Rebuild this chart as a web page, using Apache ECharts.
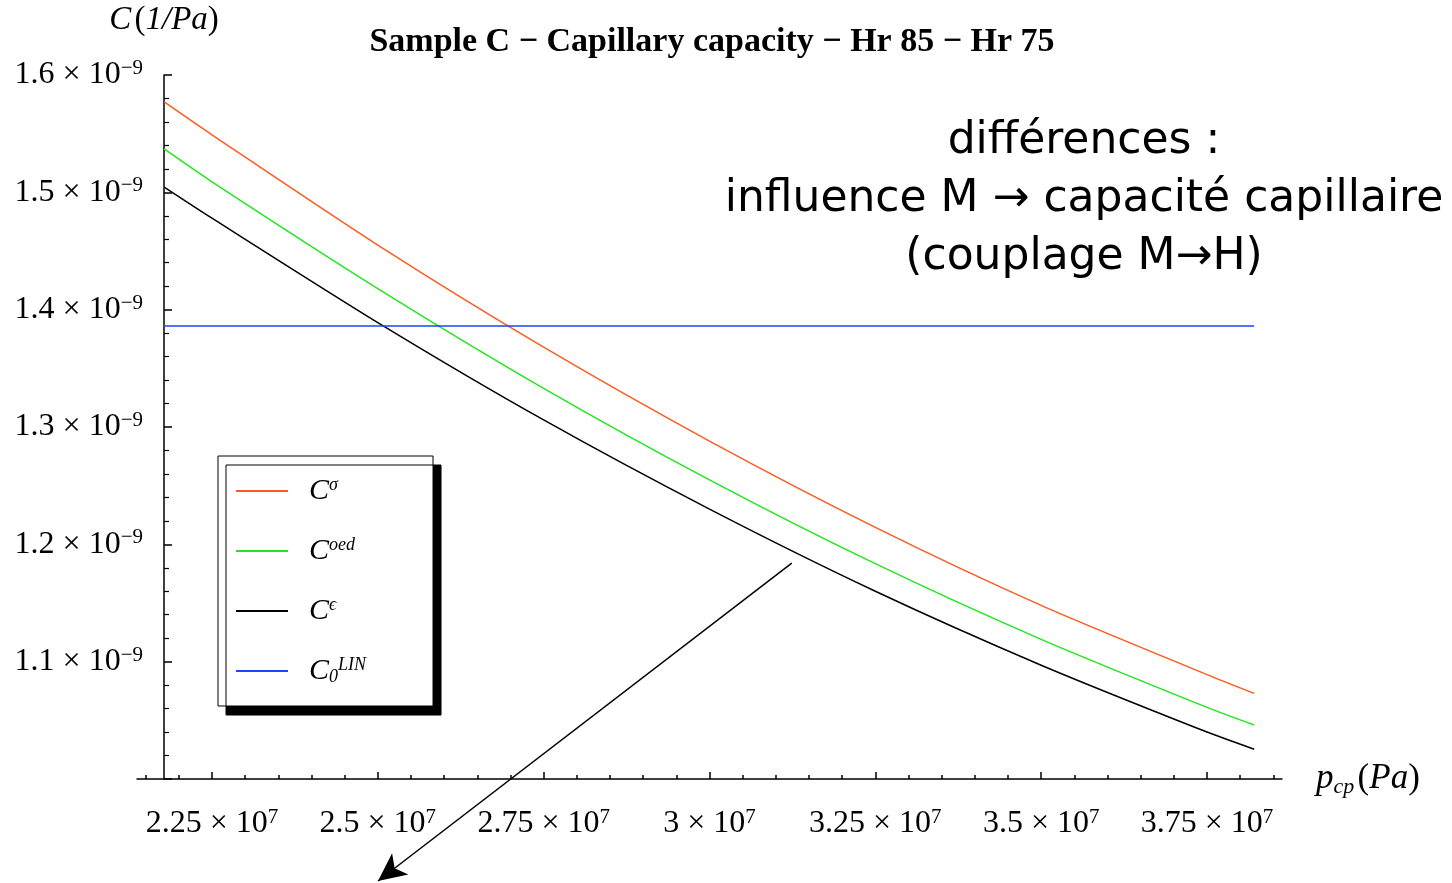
<!DOCTYPE html>
<html>
<head>
<meta charset="utf-8">
<style>
  html, body { margin: 0; padding: 0; background: #fff; }
  #chart { width: 1452px; height: 883px; }
</style>
<script src="https://cdn.jsdelivr.net/npm/echarts@6/dist/echarts.min.js"></script>
</head>
<body>
<div id="chart"></div>
<script>
// p_cp in units of 1e7 Pa
const pcp = [2.178, 2.25, 2.5, 2.75, 3.0, 3.25, 3.5, 3.75, 3.821]
// capillary capacity in units of 1e-9 1/Pa
const cSigma = [1.577, 1.549, 1.455, 1.368, 1.288, 1.2145, 1.148, 1.089, 1.073]
const cOed   = [1.537, 1.509, 1.418, 1.333, 1.255, 1.1835, 1.119, 1.061, 1.046]
const cEps   = [1.5045, 1.478, 1.389, 1.306, 1.230, 1.160, 1.097, 1.040, 1.0254]
const linX = [2.178, 3.821]
const cLin = [1.386, 1.386]

const xTicks = [2.25, 2.5, 2.75, 3, 3.25, 3.5, 3.75]
const xMinorTicks = []
for (let k = 43; k <= 77; k++) xMinorTicks.push(k / 20) // 2.15 .. 3.85 every 0.05

const legendNames = { sigma: '{c|C}{sup|σ}', oed: '{c|C}{sup|oed}', eps: '{c|C}{sup|ϵ}', lin: '{c|C}{sub|0}{sup|LIN}' }

// arrow annotation start (data units)
const arrowFrom = [3.124, 1.184]

const serif = 'Liberation Serif'
const pairs = (xs, ys) => xs.map((x, i) => [x, ys[i]])

const chart = echarts.init(document.getElementById('chart'))

const lineSeries = (name, xs, ys, color) => ({
  name: name,
  type: 'line',
  data: pairs(xs, ys),
  smooth: 0.25,
  symbol: 'none',
  lineStyle: { color: color, width: 1.5 },
  itemStyle: { color: color },
  animation: false,
  silent: true
})

const eps = lineSeries('eps', pcp, cEps, '#000000')
eps.markLine = {
  silent: true,
  symbol: ['none', 'arrow'],
  symbolSize: [20, 28],
  label: { show: false },
  lineStyle: { color: '#000', width: 1.5, type: 'solid' },
  data: [[{ coord: arrowFrom }, { x: 378, y: 881 }]]
}

const tickRich = {
  m: { fontFamily: serif, fontSize: 32, color: '#000', lineHeight: 34 },
  e: { fontFamily: serif, fontSize: 21, color: '#000', verticalAlign: 'top', lineHeight: 34, padding: [0, 0, 12, 0] }
}

const option = {
  animation: false,
  backgroundColor: '#fff',
  title: [
    {
      text: 'Sample C − Capillary capacity − Hr 85 − Hr 75',
      left: 707, top: 20, textAlign: 'center',
      textStyle: { fontFamily: serif, fontWeight: 'bold', fontSize: 34, color: '#000' }
    },
    {
      text: 'différences :\ninfluence M → capacité capillaire\n(couplage M→H)',
      left: 1079, top: 108, textAlign: 'center',
      textStyle: { fontFamily: 'DejaVu Sans', fontWeight: 'normal', fontSize: 44, lineHeight: 58, color: '#000' }
    }
  ],
  legend: {
    orient: 'vertical',
    left: 218, top: 456,
    padding: [20, 67, 20, 18],
    itemGap: 30,
    itemWidth: 52, itemHeight: 2,
    icon: 'rect',
    backgroundColor: '#fff',
    borderColor: '#000', borderWidth: 1,
    shadowColor: '#000', shadowBlur: 0, shadowOffsetX: 8, shadowOffsetY: 9,
    selectedMode: false,
    formatter: name => legendNames[name],
    textStyle: {
      padding: [0, 0, 0, 16],
      rich: {
        c: { fontFamily: serif, fontStyle: 'italic', fontSize: 30, color: '#000', lineHeight: 30 },
        sup: { fontFamily: serif, fontStyle: 'italic', fontSize: 18, color: '#000', verticalAlign: 'top', lineHeight: 30, padding: [0, 0, 10, 0] },
        sub: { fontFamily: serif, fontStyle: 'italic', fontSize: 18, color: '#000', verticalAlign: 'bottom', lineHeight: 30 }
      }
    },
    data: ['sigma', 'oed', 'eps', 'lin']
  },
  grid: { left: 137, right: 170, top: 75, bottom: 104, containLabel: false },
  xAxis: [
    {
      type: 'value', min: 2.137, max: 3.863,
      axisLine: { lineStyle: { color: '#000', width: 1.5 } },
      axisTick: { customValues: xTicks, inside: true, length: 7, lineStyle: { color: '#000', width: 1.5 } },
      axisLabel: {
        customValues: xTicks,
        margin: 28,
        formatter: v => '{m|' + String(v) + ' × 10}{e|7}',
        rich: tickRich
      },
      splitLine: { show: false },
      name: '{i|p}{s|cp} {r|(}{i|Pa}{r|)}',
      nameLocation: 'end',
      nameGap: 34,
      nameTextStyle: {
        rich: {
          i: { fontFamily: serif, fontStyle: 'italic', fontSize: 35, color: '#000', lineHeight: 38 },
          r: { fontFamily: serif, fontSize: 35, color: '#000', lineHeight: 38 },
          s: { fontFamily: serif, fontStyle: 'italic', fontSize: 22, color: '#000', verticalAlign: 'bottom', lineHeight: 38 }
        }
      }
    },
    {
      type: 'value', min: 2.137, max: 3.863, position: 'bottom',
      axisLine: { show: false },
      axisTick: { customValues: xMinorTicks, inside: true, length: 4, lineStyle: { color: '#000', width: 1.5 } },
      axisLabel: { show: false },
      splitLine: { show: false }
    }
  ],
  yAxis: {
    type: 'value', min: 1.0, max: 1.6, interval: 0.1,
    offset: -27,
    axisLine: { show: true, lineStyle: { color: '#000', width: 1.5 } },
    axisTick: { show: true, inside: true, length: 8, lineStyle: { color: '#000', width: 1.5 } },
    minorTick: { show: true, splitNumber: 5, length: 5, lineStyle: { color: '#000', width: 1.2 } },
    splitLine: { show: false },
    axisLabel: {
      showMinLabel: false,
      margin: 21,
      formatter: v => '{m|' + v.toFixed(1) + ' × 10}{e|−9}',
      rich: tickRich
    },
    name: '{i|C} {r|(}{i|1/Pa}{r|)}',
    nameLocation: 'end',
    nameGap: 38,
    nameTextStyle: {
      rich: {
        i: { fontFamily: serif, fontStyle: 'italic', fontSize: 33, color: '#000' },
        r: { fontFamily: serif, fontSize: 33, color: '#000' }
      }
    }
  },
  series: [
    lineSeries('sigma', pcp, cSigma, '#ff5a1f'),
    lineSeries('oed', pcp, cOed, '#22e622'),
    eps,
    lineSeries('lin', linX, cLin, '#2040ff')
  ]
}

chart.setOption(option)
</script>
</body>
</html>
